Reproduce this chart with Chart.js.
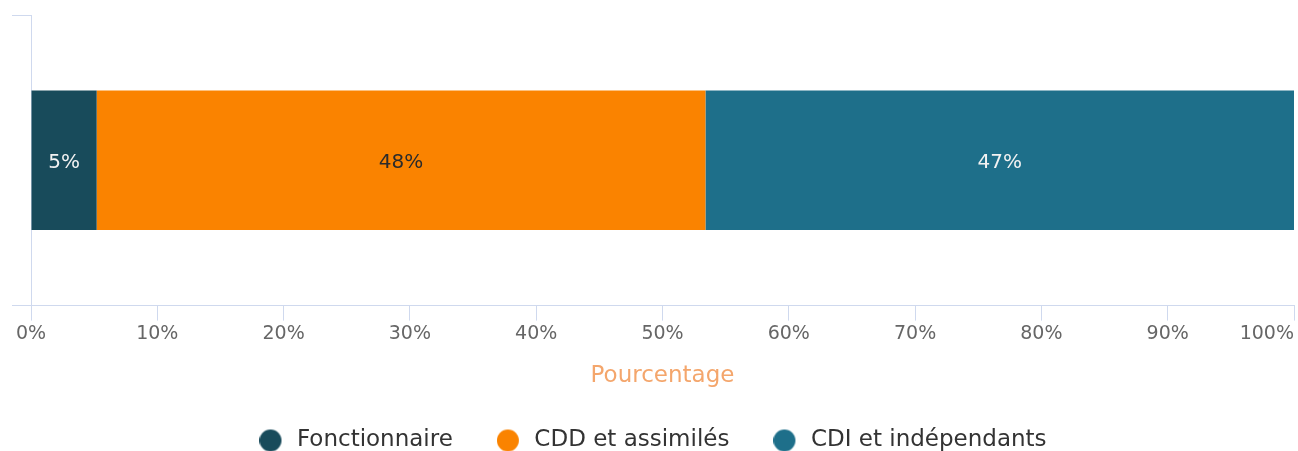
<!DOCTYPE html>
<html>
<head>
<meta charset="utf-8">
<script src="https://cdn.jsdelivr.net/npm/chart.js@4/dist/chart.umd.min.js"></script>
<style>
  html, body { margin: 0; padding: 0; background: #fff; }
  #wrap { width: 1298px; height: 451px; }
</style>
</head>
<body>
<div id="wrap"><canvas id="chart" width="1298" height="451"></canvas></div>
<script>
// data
const categories = [""];
const seriesNames = ["Fonctionnaire", "CDD et assimilés", "CDI et indépendants"];
const fonctionnaire = [5.2];
const cdd = [48.2];
const cdi = [46.6];
const xTicks = [0, 10, 20, 30, 40, 50, 60, 70, 80, 90, 100];

const colors = ["#184b5b", "#fa8300", "#1e6f8a"];
const labelColors = ["#f2f2f2", "#2b2b2b", "#f2f2f2"];
const axisColor = "#cfd9ee";
const fontFamily = "'DejaVu Sans', sans-serif";

// legend dot: circle on the left of a slightly wider transparent box
function makeDot(color) {
  const c = document.createElement("canvas");
  c.width = 26;
  c.height = 24;
  const g = c.getContext("2d");
  g.fillStyle = color;
  g.beginPath();
  g.arc(11, 12, 11, 0, Math.PI * 2);
  g.fill();
  return c;
}
const dots = colors.map(makeDot);

// draws the % inside each bar segment
const barLabels = {
  id: "barLabels",
  beforeDraw(chart) {
    // only the last tick label stays right-aligned, the 0% one is centred
    const items = chart.scales.x.getLabelItems();
    if (items.length) items[0].options.textAlign = "center";
  },
  afterDatasetsDraw(chart) {
    const ctx = chart.ctx;
    ctx.save();
    ctx.font = "20px " + fontFamily;
    ctx.textAlign = "center";
    ctx.textBaseline = "middle";
    chart.data.datasets.forEach((ds, i) => {
      const meta = chart.getDatasetMeta(i);
      meta.data.forEach((bar, j) => {
        const p = bar.getProps(["x", "y", "base"], true);
        ctx.fillStyle = labelColors[i];
        ctx.fillText(Math.round(ds.data[j]) + "%", (p.x + p.base) / 2, p.y + 2);
      });
    });
    ctx.restore();
  }
};

const ctx = document.getElementById("chart").getContext("2d");
new Chart(ctx, {
  type: "bar",
  data: {
    labels: categories,
    datasets: [
      { label: seriesNames[0], data: fonctionnaire, backgroundColor: colors[0] },
      { label: seriesNames[1], data: cdd, backgroundColor: colors[1] },
      { label: seriesNames[2], data: cdi, backgroundColor: colors[2] },
    ],
  },
  options: {
    indexAxis: "y",
    responsive: false,
    animation: false,
    categoryPercentage: 0.48,
    barPercentage: 1,
    layout: { padding: { top: 15, left: 12, right: 4, bottom: -11 } },
    scales: {
      x: {
        stacked: true,
        min: 0,
        max: 100,
        afterBuildTicks: (scale) => { scale.ticks = xTicks.map((v) => ({ value: v })); },
        border: { color: axisColor },
        grid: { drawOnChartArea: false, color: axisColor, tickLength: 15 },
        ticks: {
          align: "inner",
          padding: 2,
          color: "#666",
          font: { family: fontFamily, size: 19 },
          callback: (v) => v + "%",
        },
        title: {
          display: true,
          text: "Pourcentage",
          color: "#f4a66c",
          font: { family: fontFamily, size: 23 },
          padding: { top: 15, bottom: -5 },
        },
      },
      y: {
        stacked: true,
        border: { color: axisColor },
        grid: { drawOnChartArea: false, color: axisColor, tickLength: 19 },
        ticks: { display: false },
      },
    },
    plugins: {
      legend: {
        position: "bottom",
        labels: {
          usePointStyle: true,
          pointStyleWidth: 26,
          padding: 44,
          color: "#333",
          font: { family: fontFamily, size: 23 },
          generateLabels(chart) {
            const items = Chart.defaults.plugins.legend.labels.generateLabels(chart);
            items.forEach((it, i) => { it.pointStyle = dots[i]; });
            return items;
          },
        },
      },
      tooltip: { enabled: false },
    },
  },
  plugins: [barLabels],
});
</script>
</body>
</html>
